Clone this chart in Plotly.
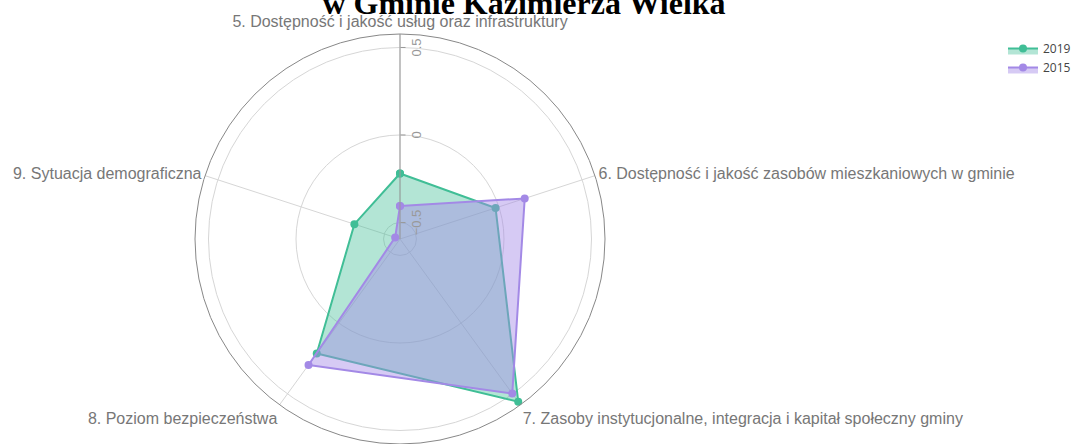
import plotly.graph_objects as go

categories = [
    "5. Dostępność i jakość usług oraz infrastruktury",
    "6. Dostępność i jakość zasobów mieszkaniowych w gminie",
    "7. Zasoby instytucjonalne, integracja i kapitał społeczny gminy",
    "8. Poziom bezpieczeństwa",
    "9. Sytuacja demograficzna",
]
values_2019 = [-0.22, -0.02, 0.555, 0.215, -0.32]
values_2015 = [-0.405, 0.155, 0.497, 0.295, -0.565]
radial_ticks = [-0.5, 0, 0.5]
radial_tick_text = ["−0.5", "0", "0.5"]
title_text = "w Gminie Kazimierza Wielka"

green = "rgb(64,190,150)"
purple = "rgb(163,137,230)"

fig = go.Figure()
fig.add_trace(go.Scatterpolar(
    r=values_2019 + values_2019[:1], theta=categories + categories[:1],
    name="2019", mode="lines+markers", fill="toself",
    line=dict(color=green, width=2), marker=dict(color=green, size=8),
    fillcolor="rgba(64,190,150,0.4)",
))
fig.add_trace(go.Scatterpolar(
    r=values_2015 + values_2015[:1], theta=categories + categories[:1],
    name="2015", mode="lines+markers", fill="toself",
    line=dict(color=purple, width=2), marker=dict(color=purple, size=8),
    fillcolor="rgba(163,137,230,0.45)",
))

fig.update_layout(
    width=1080, height=444,
    margin=dict(l=0, r=0, t=34, b=0),
    paper_bgcolor="white",
    title=dict(text="<b>" + title_text + "</b>", x=524 / 1080, xanchor="center",
               xref="container", yref="container", y=1 - 14 / 444, yanchor="bottom",
               font=dict(family="Liberation Serif", size=32, color="black")),
    polar=dict(
        domain=dict(x=[195 / 1080, 605 / 1080], y=[0, 1]),
        bgcolor="white",
        angularaxis=dict(
            rotation=90, direction="clockwise",
            showline=True, linecolor="#888", linewidth=1,
            gridcolor="#d6d6d6", ticks="",
            tickfont=dict(family="Liberation Sans", size=16, color="#777"),
        ),
        radialaxis=dict(
            range=[-0.594, 0.577], angle=90,
            tickvals=radial_ticks, ticktext=radial_tick_text,
            showline=True, linecolor="#999", linewidth=1,
            gridcolor="#d6d6d6", ticks="outside", ticklen=5, tickcolor="#999",
            tickfont=dict(family="Liberation Sans", size=13, color="#999"),
        ),
    ),
    legend=dict(x=1003 / 1080, y=1.0, xanchor="left", yanchor="top",
                font=dict(size=12, color="#444"), bgcolor="rgba(0,0,0,0)"),
    showlegend=True,
)

fig.write_html("out.html", config={"displayModeBar": False},
               post_script="document.body.style.margin='0';")
